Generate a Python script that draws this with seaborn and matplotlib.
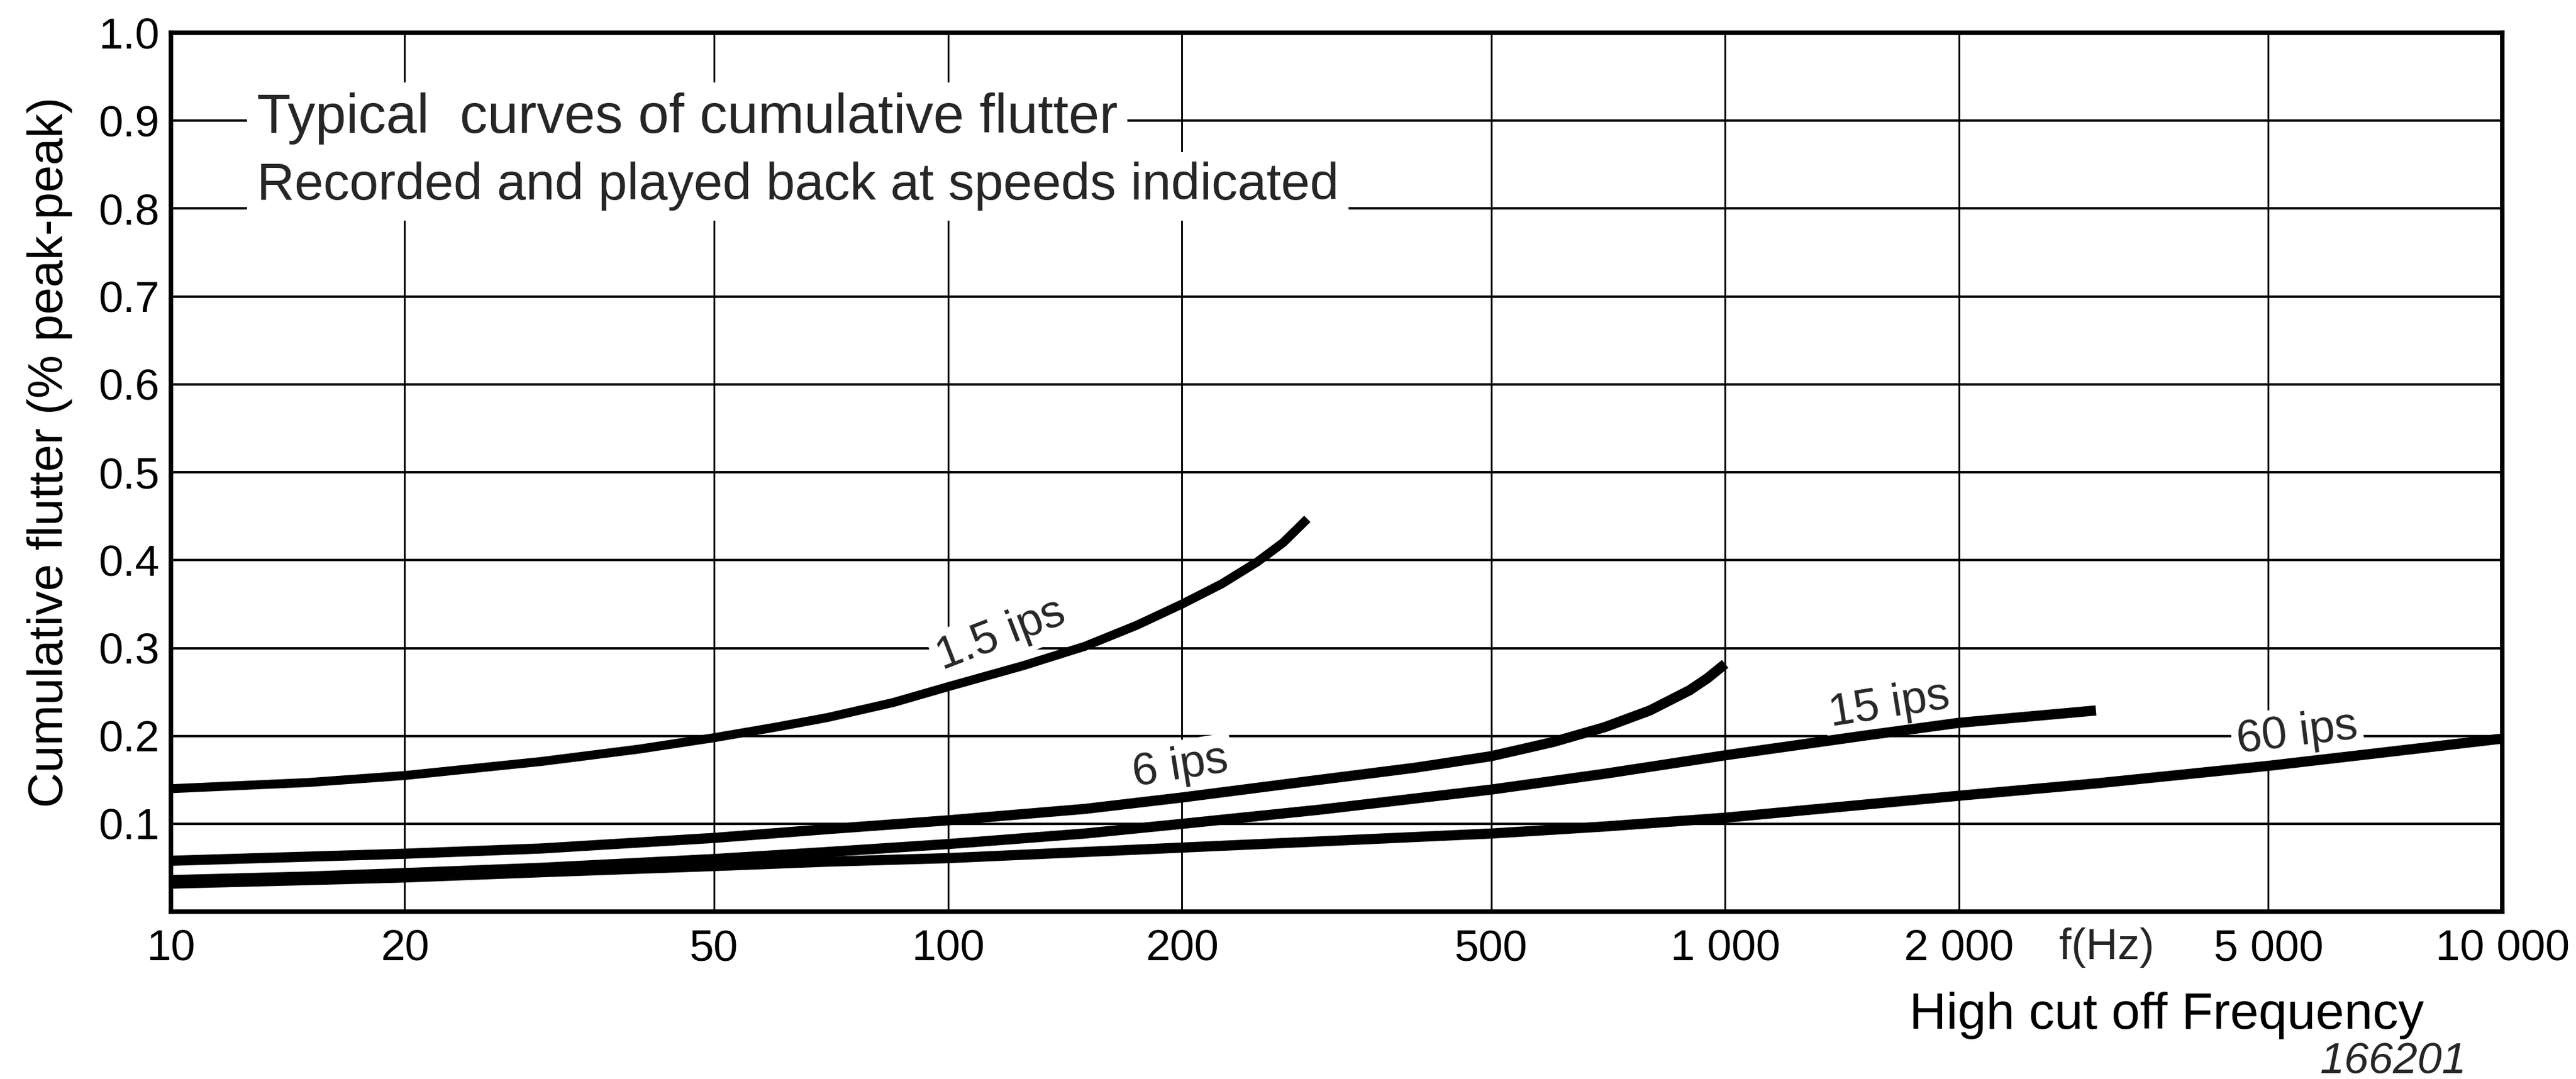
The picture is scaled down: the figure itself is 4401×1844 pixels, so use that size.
import matplotlib
matplotlib.use("Agg")
import matplotlib.pyplot as plt
from matplotlib import font_manager
from matplotlib.ticker import NullLocator
import pandas as pd
import seaborn as sns

# ---------------- data ----------------
f_1p5 = [10, 15, 20, 30, 40, 50, 60, 70, 85, 100, 125, 150, 175, 200, 225, 250, 270, 290]
y_1p5 = [0.140, 0.147, 0.155, 0.171, 0.185, 0.198, 0.210, 0.221, 0.238, 0.256,
         0.280, 0.302, 0.326, 0.350, 0.373, 0.398, 0.420, 0.447]

f_6 = [10, 20, 30, 50, 70, 100, 150, 200, 300, 400, 500, 600, 700, 800, 900, 950, 1000]
y_6 = [0.058, 0.066, 0.072, 0.084, 0.094, 0.104, 0.117, 0.130, 0.150, 0.164, 0.177,
       0.193, 0.210, 0.229, 0.252, 0.266, 0.282]

f_15 = [10, 15, 20, 30, 50, 70, 100, 150, 200, 300, 500, 700, 1000, 1500, 2000, 3000]
y_15 = [0.036, 0.040, 0.044, 0.050, 0.060, 0.068, 0.077, 0.089, 0.100, 0.116, 0.139,
        0.157, 0.178, 0.200, 0.215, 0.229]

f_60 = [10, 15, 20, 30, 50, 70, 100, 200, 300, 500, 700, 1000, 2000, 3000, 5000, 7000, 10000]
y_60 = [0.032, 0.036, 0.039, 0.045, 0.052, 0.057, 0.061, 0.073, 0.080, 0.089, 0.097,
        0.107, 0.132, 0.146, 0.166, 0.181, 0.197]

x_ticks = [10, 20, 50, 100, 200, 500, 1000, 2000, 5000, 10000]
x_tick_labels = ["10", "20", "50", "100", "200", "500", "1 000", "2 000", "5 000", "10 000"]
y_ticks = [0.1, 0.2, 0.3, 0.4, 0.5, 0.6, 0.7, 0.8, 0.9, 1.0]
y_tick_labels = ["0.1", "0.2", "0.3", "0.4", "0.5", "0.6", "0.7", "0.8", "0.9", "1.0"]

curve_labels = ["1.5 ips", "6 ips", "15 ips", "60 ips"]
label_x = [117, 199, 1626, 5445]
label_y = [0.315, 0.165, 0.235, 0.203]
label_rot = [21, 9, 9, 7]

# ---------------- style ----------------
sns.set_theme(style="white")
plt.rcParams["font.family"] = ["Liberation Sans", "DejaVu Sans"]

installed = {f.name for f in font_manager.fontManager.ttflist}
if "Liberation Sans Narrow" in installed:
    tick_family, tick_size = ["Liberation Sans Narrow", "DejaVu Sans"], 62
else:
    tick_family, tick_size = ["Liberation Sans", "DejaVu Sans"], 54

fig, ax = plt.subplots(figsize=(44.01, 18.44), dpi=100)
fig.subplots_adjust(left=0.0663, right=0.9714, bottom=0.155, top=0.9696)

ax.set_xscale("log")

series = [
    ("1.5 ips", f_1p5, y_1p5, 11),
    ("6 ips", f_6, y_6, 12.5),
    ("15 ips", f_15, y_15, 12.5),
    ("60 ips", f_60, y_60, 12.5),
]
for name, fx, fy, lw in series:
    df = pd.DataFrame({"f": fx, "flutter": fy})
    sns.lineplot(data=df, x="f", y="flutter", ax=ax, color="black", lw=lw,
                 zorder=5, solid_capstyle="butt", solid_joinstyle="round")

ax.set_xlim(10, 10000)
ax.set_ylim(0, 1.0)
ax.set_xticks(x_ticks)
ax.set_xticklabels(x_tick_labels)
ax.xaxis.set_minor_locator(NullLocator())
ax.set_yticks(y_ticks)
ax.set_yticklabels(y_tick_labels)
ax.tick_params(axis="x", length=0, pad=21, labelsize=tick_size, colors="black")
ax.tick_params(axis="y", length=0, pad=14, labelsize=tick_size, colors="black")
for lab in ax.get_xticklabels() + ax.get_yticklabels():
    lab.set_family(tick_family)

ax.set_axisbelow(True)
ax.grid(True, color="black")
ax.xaxis.grid(True, lw=2.2, color="black")
ax.yaxis.grid(True, lw=3.0, color="black")
for sp in ax.spines.values():
    sp.set_visible(True)
    sp.set_color("black")
    sp.set_linewidth(5.5)

ax.set_xlabel("High cut off Frequency", fontsize=63, color="black")
ax.xaxis.set_label_coords(0.8559, -0.1332)
ax.xaxis.label.set_va("baseline")
ax.set_ylabel("Cumulative flutter (% peak-peak)", fontsize=60, color="black")
ax.yaxis.set_label_coords(-0.052, 0.523)
ax.yaxis.label.set_va("center")

box = dict(facecolor="white", edgecolor="none", pad=12)
ax.text(12.9, 0.8865, "Typical  curves of cumulative flutter", fontsize=68,
        ha="left", va="baseline", bbox=box, zorder=3)
ax.text(12.9, 0.810, "Recorded and played back at speeds indicated", fontsize=64,
        ha="left", va="baseline", bbox=box, zorder=3)

for t, lx, ly, r in zip(curve_labels, label_x, label_y, label_rot):
    ax.text(lx, ly, t, fontsize=56, ha="center", va="center", rotation=r,
            rotation_mode="anchor",
            bbox=dict(facecolor="white", edgecolor="none", pad=6), zorder=3)

ax.text(3097, -0.041, "f(Hz)", fontsize=tick_size, family=tick_family,
        ha="center", va="center", transform=ax.get_xaxis_transform())

fig.text(0.9289, 0.0157, "166201", fontsize=54, style="italic",
         ha="center", va="center")

fig.savefig("out.png", dpi=100)
